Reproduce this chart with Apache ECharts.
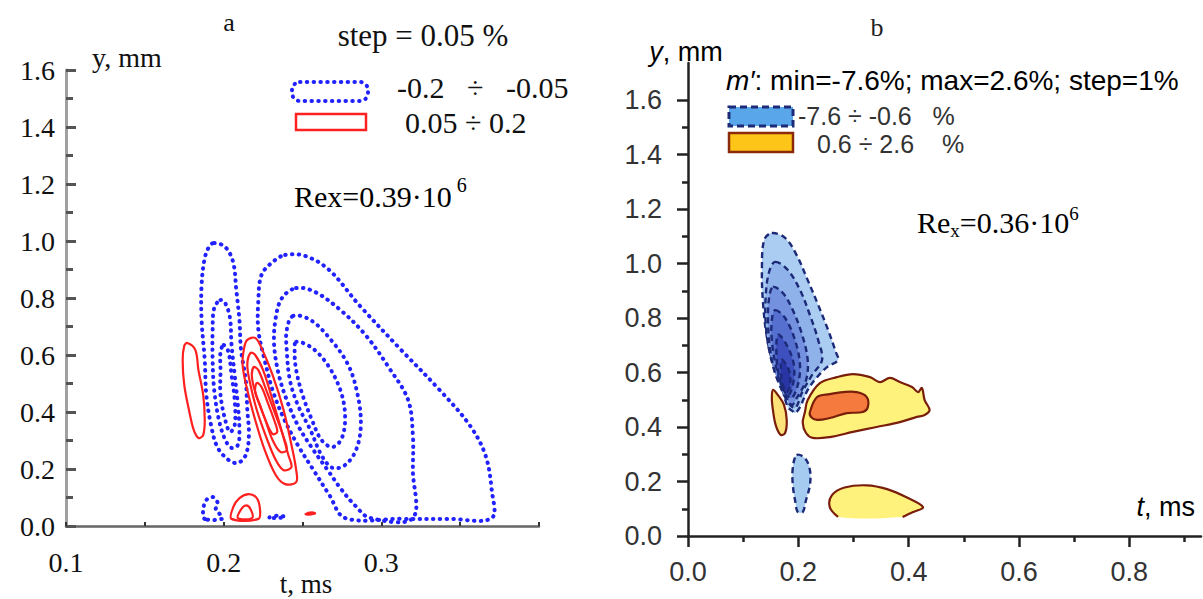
<!DOCTYPE html>
<html>
<head>
<meta charset="utf-8">
<script src="https://cdn.jsdelivr.net/npm/echarts@6/dist/echarts.min.js"></script>
<style>
html,body{margin:0;padding:0;background:#fff;}
#chart{width:1203px;height:599px;}
</style>
</head>
<body>
<div id="chart"></div>
<script>
// ---------- Panel a: contour lines of the disturbance (t, ms ; y, mm) ----------
// negative levels (-0.2 ... -0.05 %), dotted blue
const aNegOuter = [[0.239,0.951],[0.252,0.947],[0.267,0.898],[0.286,0.775],[0.312,0.621],[0.337,0.477],[0.356,0.354],[0.366,0.249],[0.370,0.126],[0.370,0.028],[0.343,0.025],[0.312,0.025],[0.277,0.028],[0.267,0.109],[0.257,0.196],[0.247,0.284],[0.238,0.379],[0.231,0.477],[0.226,0.582],[0.222,0.688],[0.222,0.793],[0.224,0.881],[0.231,0.926]];
const aNegSecond = [[0.246,0.835],[0.258,0.821],[0.274,0.758],[0.290,0.670],[0.305,0.554],[0.317,0.442],[0.320,0.319],[0.320,0.196],[0.320,0.028],[0.293,0.028],[0.283,0.074],[0.274,0.133],[0.266,0.196],[0.256,0.274],[0.247,0.354],[0.240,0.442],[0.235,0.530],[0.232,0.635],[0.233,0.730],[0.237,0.800]];
const aNegThird = [[0.244,0.737],[0.255,0.723],[0.267,0.660],[0.279,0.565],[0.285,0.460],[0.287,0.354],[0.284,0.267],[0.277,0.214],[0.269,0.204],[0.262,0.249],[0.255,0.337],[0.247,0.425],[0.242,0.512],[0.240,0.618],[0.240,0.688]];
const aNegFourth = [[0.246,0.646],[0.256,0.625],[0.266,0.565],[0.274,0.477],[0.277,0.389],[0.275,0.309],[0.269,0.277],[0.262,0.302],[0.256,0.372],[0.250,0.460],[0.246,0.547],[0.245,0.611]];
const aNegLeftOuter = [[0.194,0.993],[0.201,0.979],[0.206,0.926],[0.208,0.828],[0.210,0.723],[0.211,0.618],[0.214,0.512],[0.215,0.407],[0.216,0.319],[0.214,0.249],[0.209,0.221],[0.203,0.232],[0.196,0.277],[0.192,0.354],[0.189,0.460],[0.188,0.582],[0.186,0.723],[0.186,0.846],[0.188,0.940],[0.191,0.982]];
const aNegLeftMid = [[0.198,0.793],[0.201,0.782],[0.204,0.730],[0.205,0.635],[0.207,0.530],[0.209,0.425],[0.210,0.337],[0.209,0.284],[0.205,0.274],[0.201,0.302],[0.197,0.372],[0.194,0.477],[0.193,0.582],[0.193,0.688],[0.194,0.765]];
const aNegLeftInner = [[0.200,0.635],[0.203,0.611],[0.205,0.530],[0.207,0.442],[0.207,0.354],[0.204,0.330],[0.201,0.372],[0.198,0.460],[0.198,0.547],[0.198,0.611]];
const aNegWallSmall = [[0.188,0.025],[0.187,0.056],[0.189,0.091],[0.193,0.102],[0.196,0.084],[0.195,0.056],[0.198,0.039],[0.199,0.025]];
const aNegWallDash = [[0.229,0.030],[0.234,0.036],[0.239,0.032],[0.234,0.028]];
// positive levels (0.05 ... 0.2 %), solid red
const aPosLeft = [[0.177,0.642],[0.182,0.618],[0.184,0.547],[0.187,0.460],[0.188,0.372],[0.187,0.319],[0.184,0.309],[0.181,0.337],[0.178,0.407],[0.175,0.495],[0.174,0.582],[0.175,0.632]];
const aPosCore1 = [[0.215,0.653],[0.220,0.660],[0.224,0.625],[0.231,0.530],[0.238,0.407],[0.243,0.284],[0.246,0.196],[0.246,0.154],[0.239,0.147],[0.233,0.179],[0.226,0.267],[0.220,0.372],[0.215,0.477],[0.212,0.565],[0.213,0.625]];
const aPosCore2 = [[0.217,0.607],[0.220,0.600],[0.225,0.547],[0.231,0.442],[0.237,0.330],[0.241,0.249],[0.243,0.207],[0.238,0.196],[0.233,0.232],[0.227,0.312],[0.221,0.407],[0.217,0.495],[0.215,0.565]];
const aPosCore3 = [[0.219,0.558],[0.222,0.547],[0.227,0.477],[0.233,0.389],[0.238,0.312],[0.240,0.267],[0.236,0.260],[0.231,0.302],[0.226,0.379],[0.221,0.453],[0.218,0.519]];
const aPosCore4 = [[0.221,0.502],[0.224,0.488],[0.228,0.432],[0.232,0.372],[0.234,0.330],[0.231,0.323],[0.227,0.365],[0.223,0.425],[0.220,0.470]];
const aPosWallOuter = [[0.205,0.025],[0.206,0.065],[0.210,0.098],[0.216,0.112],[0.221,0.098],[0.223,0.060],[0.222,0.025]];
const aPosWallInner = [[0.209,0.028],[0.211,0.058],[0.214,0.072],[0.217,0.060],[0.218,0.028]];
const aPosWallDash = [[0.252,0.042],[0.256,0.048],[0.258,0.044],[0.254,0.040]];

// ---------- Panel b: filled contours of m' (t, ms ; y, mm) ----------
const bNeg1 = [[0.152,1.112],[0.176,1.094],[0.197,1.031],[0.217,0.939],[0.236,0.848],[0.254,0.756],[0.268,0.675],[0.272,0.646],[0.252,0.620],[0.234,0.583],[0.217,0.536],[0.203,0.473],[0.194,0.451],[0.190,0.458],[0.181,0.473],[0.170,0.547],[0.154,0.635],[0.143,0.730],[0.136,0.855],[0.134,0.976],[0.138,1.086]];
const bNeg2 = [[0.158,1.006],[0.181,0.976],[0.203,0.903],[0.221,0.811],[0.236,0.719],[0.243,0.646],[0.225,0.591],[0.207,0.528],[0.194,0.470],[0.179,0.499],[0.163,0.572],[0.149,0.664],[0.141,0.774],[0.141,0.884],[0.147,0.969]];
const bNeg3 = [[0.154,0.914],[0.172,0.892],[0.190,0.829],[0.207,0.738],[0.217,0.646],[0.214,0.572],[0.197,0.506],[0.188,0.481],[0.176,0.517],[0.159,0.591],[0.149,0.683],[0.145,0.793],[0.147,0.873]];
const bNeg4 = [[0.158,0.829],[0.176,0.800],[0.194,0.719],[0.203,0.628],[0.199,0.554],[0.187,0.506],[0.172,0.543],[0.159,0.628],[0.152,0.719],[0.152,0.793]];
const bNeg5 = [[0.163,0.738],[0.179,0.701],[0.192,0.628],[0.190,0.554],[0.181,0.517],[0.168,0.565],[0.161,0.646]];
const bNeg6 = [[0.170,0.646],[0.183,0.609],[0.185,0.554],[0.178,0.528],[0.170,0.572]];
const bNegLow = [[0.197,0.297],[0.212,0.286],[0.221,0.242],[0.221,0.187],[0.214,0.132],[0.208,0.088],[0.199,0.088],[0.194,0.132],[0.190,0.187],[0.190,0.250]];
const bPosMain = [[0.217,0.499],[0.239,0.561],[0.270,0.583],[0.299,0.594],[0.330,0.583],[0.348,0.565],[0.366,0.580],[0.384,0.565],[0.406,0.547],[0.417,0.528],[0.424,0.543],[0.429,0.499],[0.438,0.462],[0.429,0.444],[0.415,0.437],[0.384,0.418],[0.342,0.400],[0.299,0.382],[0.257,0.363],[0.226,0.360],[0.214,0.378],[0.208,0.415],[0.212,0.455]];
const bPosCore = [[0.221,0.455],[0.234,0.510],[0.257,0.521],[0.281,0.528],[0.306,0.528],[0.324,0.510],[0.326,0.473],[0.317,0.455],[0.288,0.451],[0.257,0.433],[0.234,0.426],[0.223,0.437]];
const bPosLeft = [[0.154,0.536],[0.163,0.517],[0.174,0.481],[0.179,0.426],[0.176,0.378],[0.168,0.371],[0.159,0.407],[0.154,0.462],[0.152,0.506]];
const bPosLow = [[0.272,0.070],[0.257,0.106],[0.261,0.150],[0.284,0.178],[0.324,0.186],[0.361,0.172],[0.397,0.141],[0.426,0.106],[0.408,0.088],[0.389,0.070]];

// ---------- tick labels ----------
const aLabelsX = [0.1, 0.2, 0.3];
const bMajorX = [0, 0.2, 0.4, 0.6, 0.8];
const bMinorX = [0.1, 0.3, 0.5, 0.7, 0.9];
const bMajorY = [0, 0.2, 0.4, 0.6, 0.8, 1.0, 1.2, 1.4, 1.6];
const bMinorY = [0.1, 0.3, 0.5, 0.7, 0.9, 1.1, 1.3, 1.5];

// ---------- styles ----------
const SERIF = '"Liberation Serif", "DejaVu Serif", serif';
const SANS = '"Liberation Sans", Arial, sans-serif';
const blueDots = { fill: 'none', stroke: '#2222ff', lineWidth: 4, lineDash: [0.5, 6.3], lineCap: 'round' };
const redLine = { fill: 'none', stroke: '#ff2020', lineWidth: 2.2 };
const navyDash = { stroke: '#1c2a78', lineWidth: 2.4, lineDash: [6, 4] };
const brownLine = { stroke: '#7a1e0c', lineWidth: 2.2 };

const panelA = [
  { pts: aNegOuter, style: blueDots },
  { pts: aNegSecond, style: blueDots },
  { pts: aNegThird, style: blueDots },
  { pts: aNegFourth, style: blueDots },
  { pts: aNegLeftOuter, style: blueDots },
  { pts: aNegLeftMid, style: blueDots },
  { pts: aNegLeftInner, style: blueDots },
  { pts: aNegWallSmall, style: blueDots },
  { pts: aNegWallDash, style: blueDots },
  { pts: aPosLeft, style: redLine },
  { pts: aPosCore1, style: redLine },
  { pts: aPosCore2, style: redLine },
  { pts: aPosCore3, style: redLine },
  { pts: aPosCore4, style: redLine },
  { pts: aPosWallOuter, style: redLine },
  { pts: aPosWallInner, style: redLine },
  { pts: aPosWallDash, style: redLine }
];

const panelB = [
  { pts: bNeg1, style: Object.assign({ fill: '#aacdf1' }, navyDash) },
  { pts: bNeg2, style: Object.assign({ fill: '#8fb2ea' }, navyDash) },
  { pts: bNeg3, style: Object.assign({ fill: '#7391de' }, navyDash) },
  { pts: bNeg4, style: Object.assign({ fill: '#5670d0' }, navyDash) },
  { pts: bNeg5, style: Object.assign({ fill: '#3d50be' }, navyDash) },
  { pts: bNeg6, style: Object.assign({ fill: '#2a35a5' }, navyDash) },
  { pts: bNegLow, style: Object.assign({ fill: '#a6cbf0' }, navyDash) },
  { pts: bPosMain, style: Object.assign({ fill: '#fff27c' }, brownLine) },
  { pts: bPosCore, style: Object.assign({ fill: '#f47a3e' }, brownLine) },
  { pts: bPosLeft, style: Object.assign({ fill: '#fde27a' }, brownLine) },
  { pts: bPosLow, style: { fill: '#fff27c', stroke: 'none' } },
  { pts: bPosLow, open: true, style: Object.assign({ fill: 'none' }, brownLine) }
];

function contourSeries(axisIndex, shapes) {
  return {
    type: 'custom',
    xAxisIndex: axisIndex,
    yAxisIndex: axisIndex,
    silent: true,
    animation: false,
    encode: { x: 0, y: 1 },
    data: shapes.map(function (s) { return s.pts[0]; }),
    renderItem: function (params, api) {
      const s = shapes[params.dataIndex];
      const points = s.pts.map(function (p) { return api.coord(p); });
      return {
        type: s.open ? 'polyline' : 'polygon',
        shape: { points: points, smooth: 0.35 },
        style: Object.assign({}, s.style)
      };
    }
  };
}

const fmt1 = function (v) { return Number(v).toFixed(1); };

const option = {
  animation: false,
  backgroundColor: '#ffffff',
  grid: [
    { left: 66, top: 70, width: 473, height: 456 },
    { left: 688, top: 63, width: 513, height: 473 }
  ],
  xAxis: [
    {
      gridIndex: 0, type: 'value', min: 0.1, max: 0.4, interval: 0.05,
      axisLine: { onZero: false, lineStyle: { color: '#666', width: 2.5 } },
      axisTick: { inside: true, length: 4, lineStyle: { color: '#333', width: 2 } },
      axisLabel: { customValues: aLabelsX, formatter: fmt1, margin: 22, fontFamily: SERIF, fontSize: 28, color: '#111' },
      splitLine: { show: false }
    },
    {
      gridIndex: 1, type: 'value', min: 0, max: 0.93,
      axisLine: { onZero: false, lineStyle: { color: '#222', width: 2.5 } },
      axisTick: { customValues: bMajorX, length: 11, lineStyle: { color: '#222', width: 2.5 } },
      axisLabel: { customValues: bMajorX, formatter: fmt1, margin: 22, fontFamily: SANS, fontSize: 27, color: '#333' },
      splitLine: { show: false }
    },
    {
      gridIndex: 1, type: 'value', min: 0, max: 0.93, position: 'bottom',
      axisLine: { show: false, onZero: false },
      axisTick: { customValues: bMinorX, length: 6, lineStyle: { color: '#222', width: 2.5 } },
      axisLabel: { show: false },
      splitLine: { show: false }
    }
  ],
  yAxis: [
    {
      gridIndex: 0, type: 'value', min: 0, max: 1.6, interval: 0.2,
      axisLine: { onZero: false, lineStyle: { color: '#a0a0a0', width: 3 } },
      axisTick: { inside: true, length: 10, lineStyle: { color: '#555', width: 3 } },
      minorTick: { show: true, splitNumber: 2, length: 7, lineStyle: { color: '#555', width: 3 } },
      axisLabel: { formatter: fmt1, margin: 11, fontFamily: SERIF, fontSize: 28, color: '#111' },
      splitLine: { show: false }, minorSplitLine: { show: false }
    },
    {
      gridIndex: 1, type: 'value', min: 0, max: 1.736,
      axisLine: { onZero: false, lineStyle: { color: '#222', width: 2.5 } },
      axisTick: { customValues: bMajorY, length: 11, lineStyle: { color: '#222', width: 2.5 } },
      axisLabel: { customValues: bMajorY, formatter: fmt1, margin: 26, fontFamily: SANS, fontSize: 27, color: '#333' },
      splitLine: { show: false }
    },
    {
      gridIndex: 1, type: 'value', min: 0, max: 1.736, position: 'left',
      axisLine: { show: false, onZero: false },
      axisTick: { customValues: bMinorY, length: 6, lineStyle: { color: '#222', width: 2.5 } },
      axisLabel: { show: false },
      splitLine: { show: false }
    }
  ],
  series: [
    contourSeries(0, panelA),
    contourSeries(1, panelB)
  ],
  graphic: {
    elements: [
      // panel a captions
      { type: 'text', x: 229, y: 22, style: { text: 'a', font: '26px ' + SERIF, fill: '#111', align: 'center', verticalAlign: 'middle' } },
      { type: 'text', x: 423, y: 35, style: { text: 'step = 0.05 %', font: '31px ' + SERIF, fill: '#111', align: 'center', verticalAlign: 'middle' } },
      { type: 'rect', shape: { x: 292, y: 82, width: 76, height: 19, r: 8 }, style: { fill: 'none', stroke: '#2222ff', lineWidth: 4, lineDash: [0.5, 6.3], lineCap: 'round' } },
      { type: 'rect', shape: { x: 296, y: 114, width: 70, height: 16 }, style: { fill: 'none', stroke: '#ff2020', lineWidth: 2.5 } },
      { type: 'text', x: 397, y: 87, style: { text: '-0.2\u00a0\u00a0\u00a0÷\u00a0\u00a0\u00a0-0.05', font: '30px ' + SERIF, fill: '#111', align: 'left', verticalAlign: 'middle' } },
      { type: 'text', x: 405, y: 122, style: { text: '0.05 ÷ 0.2', font: '30px ' + SERIF, fill: '#111', align: 'left', verticalAlign: 'middle' } },
      { type: 'text', x: 294, y: 193, style: {
          text: '{n|Rex=0.39·10}{s|\u00a06}', align: 'left', verticalAlign: 'middle',
          rich: { n: { fontFamily: SERIF, fontSize: 30, color: '#111', lineHeight: 36, verticalAlign: 'bottom' },
                  s: { fontFamily: SERIF, fontSize: 20, color: '#111', verticalAlign: 'top' } } } },
      { type: 'text', x: 92, y: 57, style: { text: 'y, mm', font: '28px ' + SERIF, fill: '#111', align: 'left', verticalAlign: 'middle' } },
      { type: 'text', x: 306, y: 584, style: { text: 't, ms', font: '27px ' + SERIF, fill: '#111', align: 'center', verticalAlign: 'middle' } },
      // panel b captions
      { type: 'text', x: 877, y: 27, style: { text: 'b', font: '26px ' + SERIF, fill: '#222', align: 'center', verticalAlign: 'middle' } },
      { type: 'text', x: 686, y: 52, style: {
          text: '{i|y}{n|, mm}', align: 'center', verticalAlign: 'middle',
          rich: { i: { fontFamily: SANS, fontSize: 27, fontStyle: 'italic', color: '#333' }, n: { fontFamily: SANS, fontSize: 27, color: '#333' } } } },
      { type: 'text', x: 726, y: 80, style: {
          text: '{i|m\u2032}{n|: min=-7.6%; max=2.6%; step=1%}', align: 'left', verticalAlign: 'middle',
          rich: { i: { fontFamily: SANS, fontSize: 28, fontStyle: 'italic', color: '#333' }, n: { fontFamily: SANS, fontSize: 28, color: '#333' } } } },
      { type: 'rect', shape: { x: 729, y: 107, width: 64, height: 19 }, style: { fill: '#5aa6ea', stroke: '#1c2a78', lineWidth: 3, lineDash: [7, 4] } },
      { type: 'rect', shape: { x: 729, y: 133, width: 64, height: 19 }, style: { fill: '#fdc517', stroke: '#8b2a0a', lineWidth: 2.5 } },
      { type: 'text', x: 798, y: 116, style: { text: '-7.6 ÷ -0.6\u00a0\u00a0\u00a0%', font: '25px ' + SANS, fill: '#333', align: 'left', verticalAlign: 'middle' } },
      { type: 'text', x: 817, y: 144, style: { text: '0.6 ÷ 2.6\u00a0\u00a0\u00a0\u00a0%', font: '25px ' + SANS, fill: '#333', align: 'left', verticalAlign: 'middle' } },
      { type: 'text', x: 917, y: 222, style: {
          text: '{n|Re}{b|x}{n|=0.36·10}{s|6}', align: 'left', verticalAlign: 'middle',
          rich: { n: { fontFamily: SERIF, fontSize: 30, color: '#333', lineHeight: 36 },
                  b: { fontFamily: SERIF, fontSize: 19, color: '#333', verticalAlign: 'bottom' },
                  s: { fontFamily: SERIF, fontSize: 19, color: '#333', verticalAlign: 'top' } } } },
      { type: 'text', x: 1195, y: 507, style: {
          text: '{i|t}{n|, ms}', align: 'right', verticalAlign: 'middle',
          rich: { i: { fontFamily: SANS, fontSize: 27, fontStyle: 'italic', color: '#333' }, n: { fontFamily: SANS, fontSize: 27, color: '#333' } } } }
    ]
  }
};

const chart = echarts.init(document.getElementById('chart'), null, { renderer: 'svg', width: 1203, height: 599 });
chart.setOption(option);
</script>
</body>
</html>
